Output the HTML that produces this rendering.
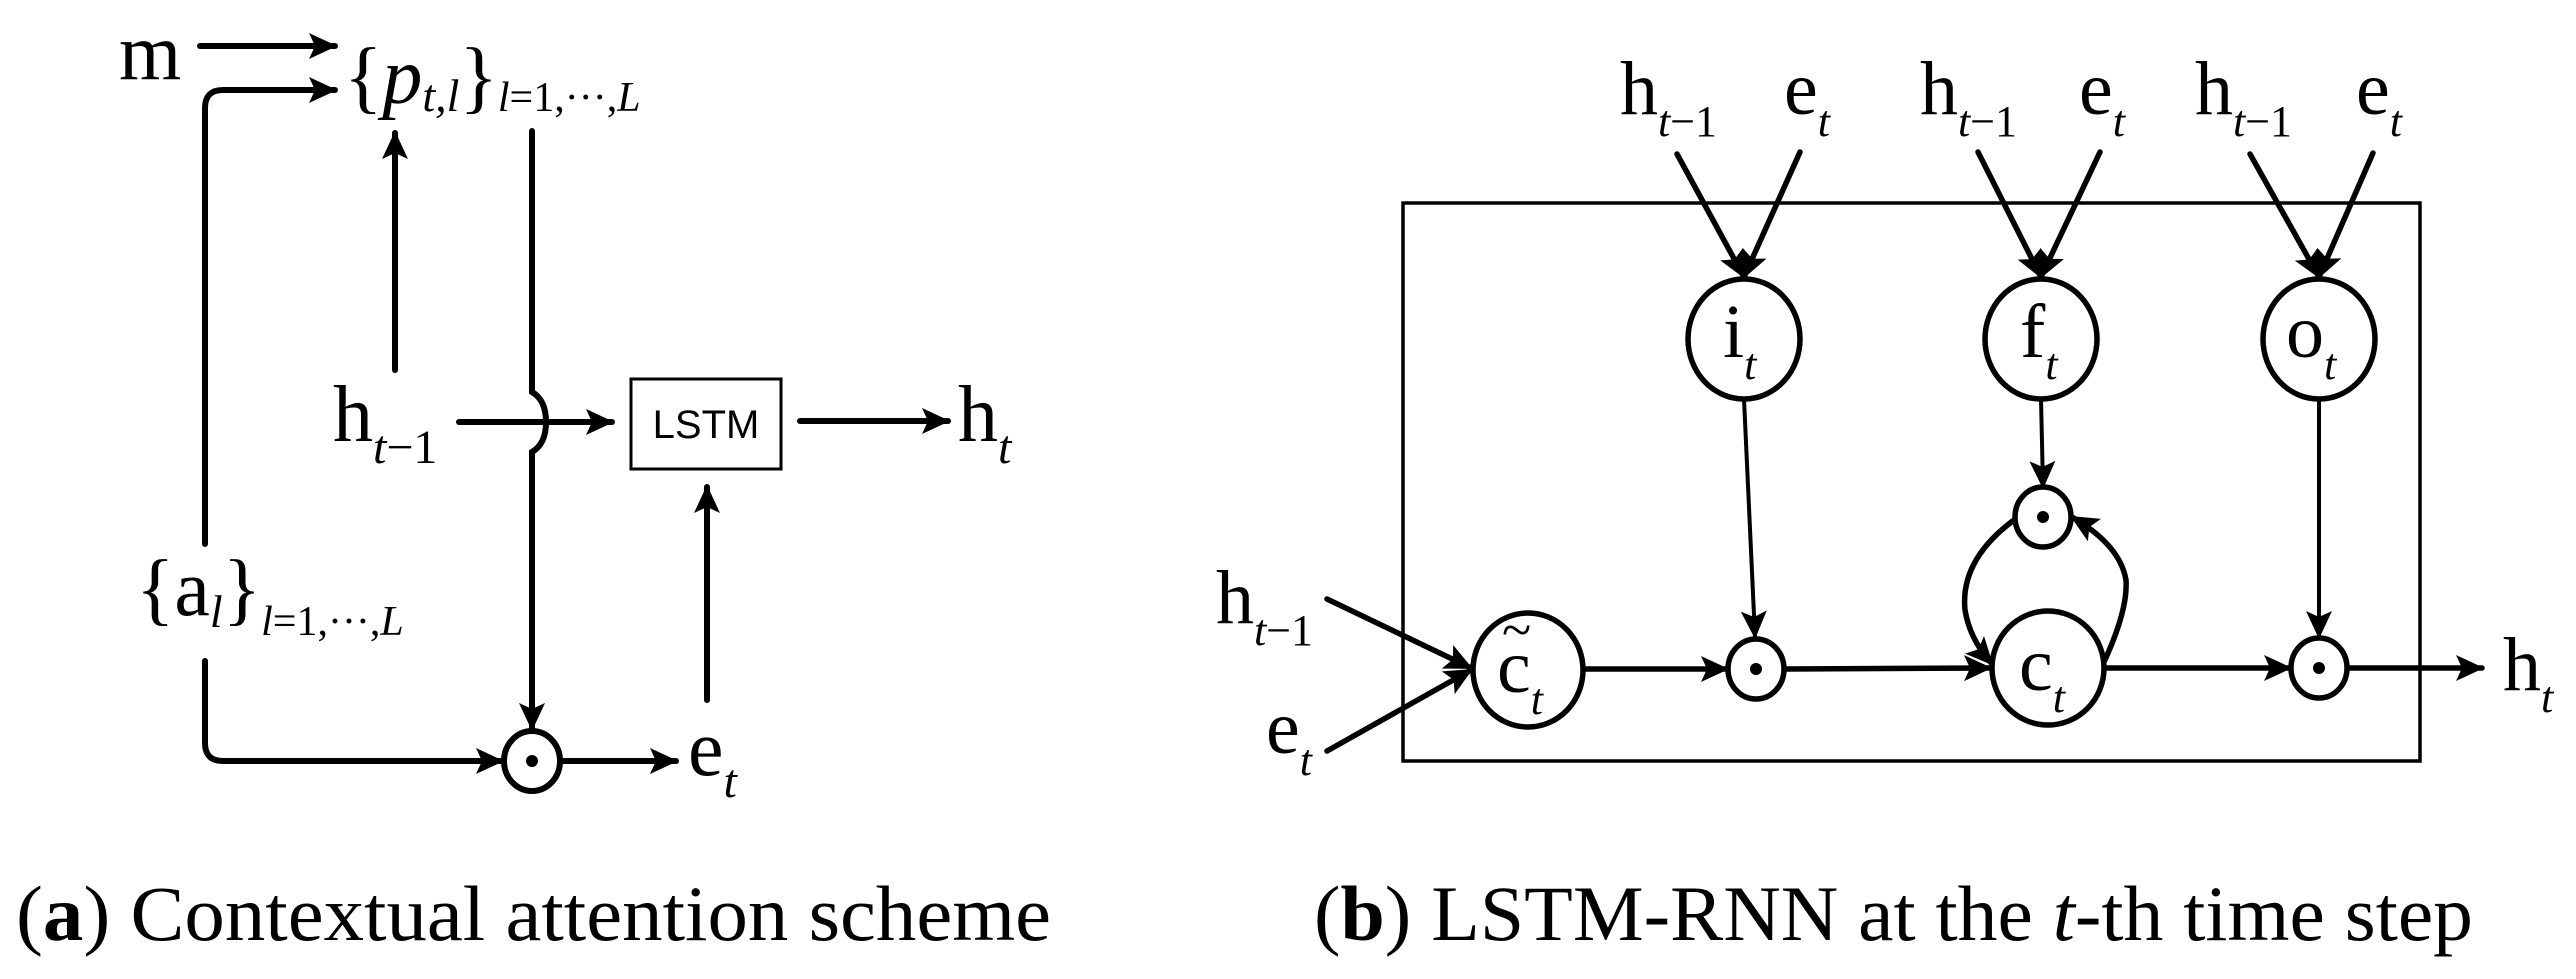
<!DOCTYPE html>
<html><head><meta charset="utf-8"><style>
html,body{margin:0;padding:0;background:#fff;}
svg{display:block;}
text{font-family:"Liberation Serif",serif;fill:#000;}
.i{font-style:italic;}
</style></head><body>
<svg width="2576" height="979" viewBox="0 0 2576 979" xmlns="http://www.w3.org/2000/svg">
<defs>
<marker id="a" markerUnits="userSpaceOnUse" markerWidth="28" markerHeight="26" refX="26" refY="13" orient="auto">
<path d="M0,0 L28,13 L0,26 L6,13 Z" fill="#000"/></marker>
</defs>
<g stroke="#000" stroke-width="6" fill="none" stroke-linecap="round">
<line x1="200" y1="46" x2="335" y2="46" marker-end="url(#a)"/>
<path d="M205,544 L205,108 Q205,90 223,90 L335,90" marker-end="url(#a)"/>
<line x1="395" y1="370" x2="395" y2="133" marker-end="url(#a)"/>
<path d="M532,131 L532,392 Q546,400 546,422 Q546,444 532,452 L532,729" marker-end="url(#a)"/>
<line x1="459" y1="422" x2="612" y2="422" marker-end="url(#a)"/>
<line x1="800" y1="421" x2="948" y2="421" marker-end="url(#a)"/>
<line x1="707" y1="700" x2="707" y2="487" marker-end="url(#a)"/>
<path d="M205,661 L205,743 Q205,761 223,761 L502,761" marker-end="url(#a)"/>
<line x1="561" y1="761" x2="676" y2="761" marker-end="url(#a)"/>
<ellipse cx="532" cy="761" rx="28" ry="30"/>
</g>
<rect x="631" y="379" width="150" height="90" fill="none" stroke="#000" stroke-width="3"/>
<text x="706" y="438" text-anchor="middle" style="font-family:'Liberation Sans',sans-serif;font-size:40px">LSTM</text>
<circle cx="532" cy="761" r="6" fill="#000"/>
<text x="119" y="79" font-size="80">m</text>
<text x="344" y="103" font-size="80">{<tspan class="i">p</tspan><tspan class="i" font-size="46" dy="8">t,l</tspan><tspan dy="-8">}</tspan><tspan class="i" font-size="42" dy="8">l</tspan><tspan font-size="42">=1,···,</tspan><tspan class="i" font-size="42">L</tspan></text>
<text x="333" y="441" font-size="80">h<tspan class="i" font-size="48" dy="22">t</tspan><tspan font-size="48">−1</tspan></text>
<text x="958" y="441" font-size="80">h<tspan class="i" font-size="48" dy="22">t</tspan></text>
<text x="136" y="615" font-size="80">{a<tspan class="i" font-size="46" dy="12">l</tspan><tspan dy="-12">}</tspan><tspan class="i" font-size="42" dy="20">l</tspan><tspan font-size="42">=1,···,</tspan><tspan class="i" font-size="42">L</tspan></text>
<text x="688" y="775" font-size="80">e<tspan class="i" font-size="48" dy="22">t</tspan></text>
<rect x="1403" y="203" width="1017" height="558" fill="none" stroke="#000" stroke-width="3.5"/>
<g stroke="#000" stroke-width="5.5" fill="none" stroke-linecap="round">
<line x1="1677" y1="154" x2="1744" y2="277" marker-end="url(#a)"/>
<line x1="1800" y1="152" x2="1744" y2="277" marker-end="url(#a)"/>
<line x1="1978" y1="152" x2="2041" y2="277" marker-end="url(#a)"/>
<line x1="2100" y1="152" x2="2041" y2="277" marker-end="url(#a)"/>
<line x1="2250" y1="154" x2="2319" y2="277" marker-end="url(#a)"/>
<line x1="2373" y1="153" x2="2319" y2="277" marker-end="url(#a)"/>
<line x1="1744" y1="399" x2="1755" y2="637" marker-end="url(#a)" stroke-width="4"/>
<line x1="2041" y1="399" x2="2043" y2="487" marker-end="url(#a)" stroke-width="4"/>
<line x1="2319" y1="399" x2="2319" y2="637" marker-end="url(#a)" stroke-width="4"/>
<line x1="1327" y1="599" x2="1471" y2="668" marker-end="url(#a)"/>
<line x1="1327" y1="751" x2="1471" y2="670" marker-end="url(#a)"/>
<line x1="1583" y1="669" x2="1727" y2="669" marker-end="url(#a)"/>
<line x1="1785" y1="669" x2="1990" y2="668" marker-end="url(#a)"/>
<line x1="2104" y1="668" x2="2290" y2="668" marker-end="url(#a)"/>
<line x1="2348" y1="668" x2="2482" y2="668" marker-end="url(#a)"/>
<path d="M2014,520 Q1960,560 1965,610 Q1970,640 1992,664" marker-end="url(#a)"/>
<path d="M2104,662 Q2128,610 2126,580 Q2120,545 2072,517" marker-end="url(#a)"/>
<ellipse cx="1744" cy="339" rx="56" ry="60" fill="#fff"/>
<ellipse cx="2041" cy="339" rx="56" ry="60" fill="#fff"/>
<ellipse cx="2319" cy="339" rx="56" ry="60" fill="#fff"/>
<ellipse cx="1528" cy="670" rx="55" ry="57" fill="#fff"/>
<ellipse cx="2048" cy="668" rx="56" ry="57" fill="#fff"/>
<ellipse cx="1756" cy="669" rx="28" ry="30" fill="#fff"/>
<ellipse cx="2043" cy="517" rx="28" ry="30" fill="#fff"/>
<ellipse cx="2319" cy="668" rx="28" ry="30" fill="#fff"/>
</g>
<circle cx="1756" cy="669" r="6"/><circle cx="2043" cy="517" r="6"/><circle cx="2319" cy="668" r="6"/>
<g font-size="76">
<text x="1620" y="114">h<tspan class="i" font-size="44" dy="22">t</tspan><tspan font-size="44">−1</tspan></text>
<text x="1784" y="114">e<tspan class="i" font-size="44" dy="22">t</tspan></text>
<text x="1920" y="114">h<tspan class="i" font-size="44" dy="22">t</tspan><tspan font-size="44">−1</tspan></text>
<text x="2079" y="114">e<tspan class="i" font-size="44" dy="22">t</tspan></text>
<text x="2195" y="114">h<tspan class="i" font-size="44" dy="22">t</tspan><tspan font-size="44">−1</tspan></text>
<text x="2356" y="114">e<tspan class="i" font-size="44" dy="22">t</tspan></text>
<text x="1723" y="357">i<tspan class="i" font-size="44" dy="22">t</tspan></text>
<text x="2020" y="357">f<tspan class="i" font-size="44" dy="22">t</tspan></text>
<text x="2286" y="357">o<tspan class="i" font-size="44" dy="22">t</tspan></text>
<text x="1497" y="692">c<tspan class="i" font-size="44" dy="22">t</tspan></text>
<text x="1502" y="648" font-size="54">~</text>
<text x="2019" y="690">c<tspan class="i" font-size="44" dy="22">t</tspan></text>
<text x="1216" y="623">h<tspan class="i" font-size="44" dy="22">t</tspan><tspan font-size="44">−1</tspan></text>
<text x="1266" y="753">e<tspan class="i" font-size="44" dy="22">t</tspan></text>
<text x="2503" y="690">h<tspan class="i" font-size="44" dy="22">t</tspan></text>
</g>
<text x="16" y="940" font-size="78" textLength="1035" lengthAdjust="spacingAndGlyphs">(<tspan font-weight="bold">a</tspan>) Contextual attention scheme</text>
<text x="1314" y="940" font-size="78" textLength="1159" lengthAdjust="spacingAndGlyphs">(<tspan font-weight="bold">b</tspan>) LSTM-RNN at the <tspan class="i">t</tspan>-th time step</text>
</svg>
</body></html>
